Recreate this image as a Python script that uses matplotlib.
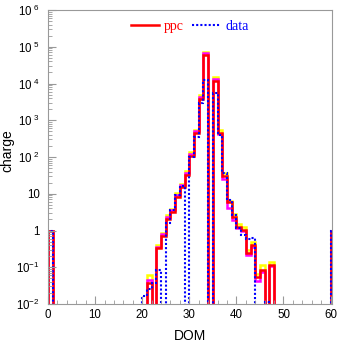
import numpy as np
import matplotlib
matplotlib.use("Agg")
import matplotlib.pyplot as plt
from matplotlib.ticker import MultipleLocator, LogLocator, NullFormatter, FixedLocator

plt.rcParams['font.family'] = ['Liberation Sans', 'DejaVu Sans']

# bins 0..60 (edges 0..61)
n_bins = 61
first = 20  # first of the dense range below
ppc_mid = [0, 0.037, 0, 0.33, 0.71, 2.1, 3.1, 8.0, 15, 32, 108, 460, 3.8e3, 5.8e4,
           0, 1.2e4, 450, 31, 6.0, 2.35, 1.27, 1.03, 0.24, 0.40, 0.055, 0.084, 0, 0.115]
up_mid = [0, 0.062, 0, 0.40, 0.87, 2.6, 3.9, 10.5, 19, 42, 135, 550, 4.9e3, 7.4e4,
          0, 1.53e4, 540, 37, 6.3, 2.9, 1.5, 1.27, 0.30, 0.50, 0.065, 0.115, 0, 0.14]
alt_mid = [0, 0.045, 0, 0.36, 0.78, 2.35, 3.6, 9.3, 17, 36, 118, 500, 4.3e3, 6.6e4,
           0, 1.35e4, 420, 25, 4.0, 1.9, 1.15, 0.95, 0.21, 0.35, 0.042, 0.075, 0, 0.11]
data_mid = [0.016, 0.026, 0.037, 0.085, 0, 1.6, 3.7, 9.5, 16, 0, 100, 355, 2.9e3, 1.24e4,
            0, 5.4e3, 400, 36, 6.8, 2.6, 1.15, 0.75, 0.6, 0.62, 0, 0, 0.011, 0]
edge_val = 1.0  # DOM 0 and DOM 60


def full(mid):
    h = np.zeros(n_bins)
    h[0] = edge_val
    h[-1] = edge_val
    h[first:first + len(mid)] = mid
    return np.where(h > 0, h, 1e-6)


edges = np.arange(n_bins + 1)

fig = plt.figure(figsize=(3.37, 3.44), dpi=100)
ax = fig.add_axes([48 / 337, 1 - 304 / 344, 284 / 337, 294 / 344])

ax.stairs(full(up_mid), edges, baseline=1e-6, color='#ffff00', lw=1.8)
ax.stairs(full(alt_mid), edges, baseline=1e-6, color='#ff00ff', lw=1.8)
ax.stairs(full(ppc_mid), edges, baseline=1e-6, color='#ff0000', lw=1.8, label='ppc')
ax.stairs(full(data_mid), edges, baseline=1e-6, color='#0000ff', lw=1.5,
          linestyle=(0, (1.0, 1.0)), label='data')

ax.set_yscale('log')
ax.set_xlim(0, 60.3)
ax.set_ylim(1e-2, 1e6)

yt = [1e-2, 1e-1, 1, 10, 1e2, 1e3, 1e4, 1e5, 1e6]
ylab = [r'$\mathregular{10^{-2}}$', r'$\mathregular{10^{-1}}$', '1', '10',
        r'$\mathregular{10^{\ 2}}$', r'$\mathregular{10^{\ 3}}$', r'$\mathregular{10^{\ 4}}$',
        r'$\mathregular{10^{\ 5}}$', r'$\mathregular{10^{\ 6}}$']
ax.yaxis.set_major_locator(FixedLocator(yt))
ax.set_yticklabels(ylab)
ax.yaxis.set_minor_locator(LogLocator(base=10, subs=np.arange(2, 10), numticks=20))
ax.yaxis.set_minor_formatter(NullFormatter())
ax.xaxis.set_major_locator(MultipleLocator(10))
ax.xaxis.set_minor_locator(MultipleLocator(2))

for s in ax.spines.values():
    s.set_color('#999999')
    s.set_linewidth(0.8)
ax.tick_params(which='both', direction='in', color='#999999', labelsize=8.3, top=False, right=False)
ax.tick_params(which='major', length=6)
ax.tick_params(which='minor', length=3)
ax.tick_params(axis='y', pad=6)

ax.set_xlabel('DOM', fontsize=10, labelpad=6)
ax.set_ylabel('charge', fontsize=10)
ax.yaxis.set_label_coords(-0.118, 0.52)

ax.legend(loc='upper center', ncol=2, frameon=False, handlelength=2.0, columnspacing=0.6,
          handletextpad=0.4, borderaxespad=0.3, labelcolor='linecolor',
          prop={'family': 'Liberation Serif', 'size': 10}, bbox_to_anchor=(0.5, 1.0))

fig.savefig('out.png', dpi=100)
